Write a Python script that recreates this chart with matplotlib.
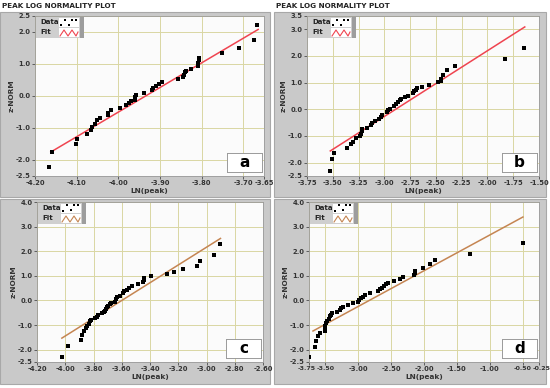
import numpy as np
import matplotlib
matplotlib.use('Agg')
import matplotlib.pyplot as plt
import matplotlib.transforms as mtransforms
from matplotlib.patches import Rectangle

W, H = 550, 388

# ── data ──────────────────────────────────────────────────────────────────────
a_x = [-4.166, -4.160, -4.101, -4.099, -4.076, -4.065, -4.063, -4.057, -4.052, -4.045,
       -4.025, -4.025, -4.017, -3.997, -3.981, -3.975, -3.969, -3.961, -3.959, -3.957,
       -3.939, -3.918, -3.916, -3.910, -3.903, -3.895, -3.856, -3.844, -3.841, -3.839,
       -3.837, -3.826, -3.808, -3.808, -3.807, -3.806, -3.752, -3.710, -3.674, -3.668]
a_y = [-2.22, -1.75, -1.51, -1.33, -1.18, -1.05, -0.97, -0.86, -0.74, -0.68,
       -0.60, -0.52, -0.45, -0.36, -0.29, -0.22, -0.16, -0.11, -0.03, 0.04,
       0.10, 0.18, 0.24, 0.30, 0.36, 0.44, 0.52, 0.59, 0.67, 0.75,
       0.78, 0.85, 0.95, 1.03, 1.11, 1.19, 1.34, 1.51, 1.76, 2.23]
a_fit_x = [-4.162, -3.664]
a_fit_y = [-1.75, 2.08]

b_x = [-3.524, -3.504, -3.492, -3.363, -3.321, -3.305, -3.279, -3.237, -3.231, -3.221,
       -3.215, -3.170, -3.128, -3.121, -3.089, -3.047, -3.031, -3.018, -2.976, -2.960,
       -2.944, -2.902, -2.889, -2.870, -2.847, -2.841, -2.799, -2.767, -2.725, -2.709,
       -2.693, -2.680, -2.631, -2.567, -2.477, -2.454, -2.451, -2.428, -2.396, -2.315,
       -1.832, -1.645]
b_y = [-2.31, -1.86, -1.63, -1.44, -1.31, -1.21, -1.08, -0.99, -0.91, -0.83,
       -0.75, -0.69, -0.60, -0.51, -0.44, -0.36, -0.29, -0.23, -0.11, -0.04,
       0.03, 0.13, 0.19, 0.28, 0.34, 0.40, 0.46, 0.51, 0.61, 0.69,
       0.74, 0.80, 0.84, 0.93, 1.01, 1.06, 1.15, 1.30, 1.46, 1.63,
       1.88, 2.31]
b_fit_x = [-3.524, -1.638]
b_fit_y = [-1.56, 3.09]

c_x = [-4.021, -3.979, -3.887, -3.878, -3.866, -3.854, -3.845, -3.835, -3.828, -3.816,
       -3.786, -3.772, -3.765, -3.741, -3.729, -3.718, -3.711, -3.701, -3.694, -3.682,
       -3.675, -3.647, -3.642, -3.635, -3.612, -3.588, -3.584, -3.565, -3.546, -3.529,
       -3.482, -3.452, -3.442, -3.440, -3.395, -3.282, -3.231, -3.165, -3.066, -3.047,
       -2.948, -2.906]
c_y = [-2.28, -1.84, -1.60, -1.42, -1.26, -1.12, -1.03, -0.94, -0.85, -0.79,
       -0.72, -0.67, -0.58, -0.52, -0.48, -0.41, -0.34, -0.28, -0.21, -0.14,
       -0.09, -0.05, 0.05, 0.13, 0.20, 0.29, 0.39, 0.43, 0.52, 0.59,
       0.66, 0.74, 0.83, 0.90, 0.98, 1.07, 1.17, 1.29, 1.41, 1.60,
       1.83, 2.28]
c_fit_x = [-4.024, -2.901]
c_fit_y = [-1.53, 2.52]

d_x = [-3.750, -3.653, -3.638, -3.612, -3.587, -3.511, -3.511, -3.501, -3.485, -3.470,
       -3.449, -3.434, -3.409, -3.394, -3.322, -3.281, -3.256, -3.230, -3.164, -3.078,
       -3.001, -2.986, -2.965, -2.935, -2.899, -2.823, -2.706, -2.670, -2.634, -2.603,
       -2.578, -2.543, -2.456, -2.364, -2.313, -2.145, -2.140, -2.135, -2.018, -1.916,
       -1.840, -1.295, -0.495]
d_y = [-2.31, -1.90, -1.64, -1.46, -1.33, -1.24, -1.13, -1.03, -0.92, -0.83,
       -0.75, -0.65, -0.58, -0.52, -0.45, -0.38, -0.32, -0.25, -0.18, -0.11,
       -0.05, 0.02, 0.09, 0.16, 0.22, 0.32, 0.39, 0.45, 0.52, 0.59,
       0.66, 0.70, 0.79, 0.87, 0.95, 1.03, 1.12, 1.20, 1.33, 1.47,
       1.64, 1.88, 2.34]
d_fit_x = [-3.689, -0.495]
d_fit_y = [-1.24, 3.39]

a_xticks = [-4.20, -4.10, -4.00, -3.90, -3.80, -3.70, -3.65]
a_yticks = [-2.5, -2.0, -1.0, 0.0, 1.0, 2.0, 2.5]
b_xticks = [-3.75, -3.50, -3.25, -3.00, -2.75, -2.50, -2.25, -2.00, -1.75, -1.50]
b_yticks = [-2.5, -2.0, -1.0, 0.0, 1.0, 2.0, 3.0, 3.5]
c_xticks = [-4.20, -4.00, -3.80, -3.60, -3.40, -3.20, -3.00, -2.80, -2.60]
c_yticks = [-2.5, -2.0, -1.0, 0.0, 1.0, 2.0, 3.0, 4.0]
d_xticks = [-3.75, -3.50, -3.00, -2.50, -2.00, -1.50, -1.00, -0.50, -0.25]
d_yticks = [-2.5, -2.0, -1.0, 0.0, 1.0, 2.0, 3.0, 4.0]

FRAME = '#c9c9c9'
PLOT_BG = '#fbfbfb'
GRID = '#d9d6a3'
RED = '#ef4450'
BROWN = '#c58552'

fig = plt.figure(figsize=(W / 100, H / 100), dpi=100)
fig.patch.set_facecolor('white')


def px_rect(x0, y0, x1, y1):
    """pixel box (top-left origin) -> figure fraction rect"""
    return [x0 / W, 1 - y1 / H, (x1 - x0) / W, (y1 - y0) / H]


def frame(x0, y0, x1, y1):
    fig.patches.append(Rectangle((x0 / W, 1 - y1 / H), (x1 - x0) / W, (y1 - y0) / H,
                                 transform=fig.transFigure, facecolor=FRAME,
                                 edgecolor='#a8a8a8', lw=0.8, zorder=-5))


def panel(box, xs, ys, fx, fy, xticks, yticks, line_col, tag, squeeze_ends=False):
    ax = fig.add_axes(px_rect(*box))
    ax.set_facecolor(PLOT_BG)
    ax.set_xlim(xticks[0], xticks[-1])
    ax.set_ylim(yticks[0], yticks[-1])
    ax.set_xticks(xticks)
    ax.set_yticks(yticks)
    ax.set_xticklabels(['%.2f' % t for t in xticks])
    ax.set_yticklabels(['%.1f' % t for t in yticks])
    ax.tick_params(labelsize=4.9, length=2, width=0.5, pad=1, colors='#333333')
    for lab in ax.get_xticklabels() + ax.get_yticklabels():
        lab.set_fontweight('bold')
    if squeeze_ends:
        # edge labels sit very close to their neighbours, nudge them apart
        labs = ax.get_xticklabels()
        for lab, dx in [(labs[0], -2.5), (labs[-1], 3.0)]:
            lab.set_fontsize(4.5)
            lab.set_transform(lab.get_transform() +
                              mtransforms.ScaledTranslation(dx / 100, 0, fig.dpi_scale_trans))
        labs[1].set_fontsize(4.5)
        labs[-2].set_fontsize(4.5)
    ax.grid(True, color=GRID, lw=0.7)
    ax.set_axisbelow(True)
    for s in ax.spines.values():
        s.set_color('#9a9a9a')
        s.set_linewidth(0.6)
    ax.plot(fx, fy, color=line_col, lw=1.1, zorder=2)
    ax.scatter(xs, ys, s=5, marker='s', color='black', lw=0, zorder=3)
    ax.set_xlabel('LN(peak)', fontsize=5.3, fontweight='bold', labelpad=1, color='#333333')
    ax.set_ylabel('z-NORM', fontsize=5.3, fontweight='bold', labelpad=1, color='#333333')

    # tag box in lower right corner
    bx0, by0, bx1, by1 = box
    tb = fig.add_axes(px_rect(bx1 - 37, by1 - 23, bx1 - 2, by1 - 4))
    tb.set_xticks([])
    tb.set_yticks([])
    tb.set_facecolor('white')
    for s in tb.spines.values():
        s.set_color('#9a9a9a')
        s.set_linewidth(0.7)
    tb.text(0.5, 0.5, tag, ha='center', va='center', fontsize=11, fontweight='bold',
            transform=tb.transAxes)

    # legend block in the top left corner
    lg = fig.add_axes(px_rect(bx0 + 1, by0 + 1, bx0 + 49, by0 + 22))
    lg.set_xlim(0, 48)
    lg.set_ylim(21, 0)
    lg.axis('off')
    lg.add_patch(Rectangle((0, 0), 48, 21, fc='#cfcfcf', ec='none'))
    lg.add_patch(Rectangle((44, 0), 4, 21, fc='#9d9d9d', ec='none'))
    lg.add_patch(Rectangle((23, 1), 20, 9, fc='white', ec='none'))
    lg.add_patch(Rectangle((23, 11), 20, 9, fc='white', ec='none'))
    lg.text(4, 5.5, 'Data', fontsize=5, fontweight='bold', va='center', color='#222222')
    lg.text(4, 15.5, 'Fit', fontsize=5, fontweight='bold', va='center', color='#222222')
    lg.scatter([25, 29, 36, 40, 33], [8, 2.5, 2.5, 2.5, 7.5], s=3, marker='s',
               color='black', lw=0)
    lg.plot([24, 28, 32, 36, 40, 42], [19, 13, 19, 13, 19, 15], color=line_col, lw=0.8)
    return ax


# grey frames behind each panel
frame(0, 12, 270, 197)
frame(274, 12, 546, 197)
frame(0, 199, 270, 384)
frame(274, 199, 546, 384)

fig.text(2 / W, 1 - 6 / H, 'PEAK LOG NORMALITY PLOT', fontsize=5.2, fontweight='bold',
         va='center', color='#222222')
fig.text(276 / W, 1 - 6 / H, 'PEAK LOG NORMALITY PLOT', fontsize=5.2, fontweight='bold',
         va='center', color='#222222')

panel((35, 16, 264, 176), a_x, a_y, a_fit_x, a_fit_y, a_xticks, a_yticks, RED, 'a')
panel((307, 16, 539, 176), b_x, b_y, b_fit_x, b_fit_y, b_xticks, b_yticks, RED, 'b')
panel((37, 202, 263, 362), c_x, c_y, c_fit_x, c_fit_y, c_xticks, c_yticks, BROWN, 'c')
panel((309, 202, 539, 362), d_x, d_y, d_fit_x, d_fit_y, d_xticks, d_yticks, BROWN, 'd',
      squeeze_ends=True)

plt.savefig('out.png', dpi=100)
